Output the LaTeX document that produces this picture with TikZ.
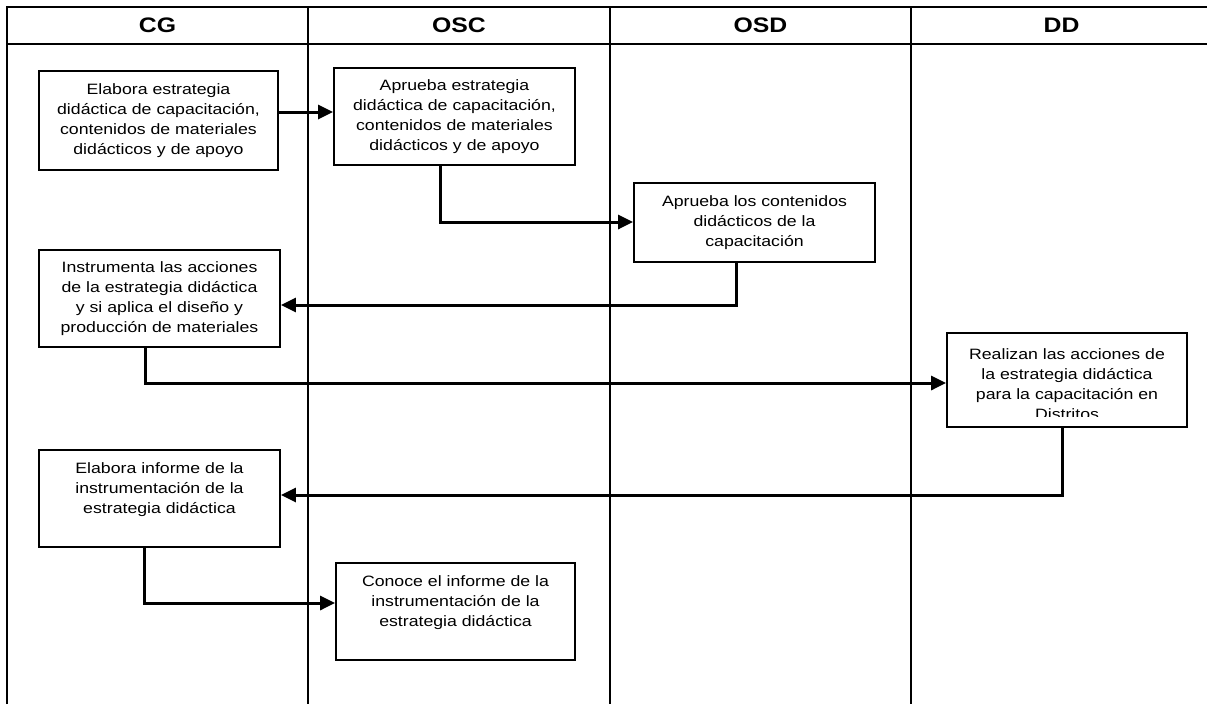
\documentclass[tikz,border=0pt]{standalone}
\usepackage{fontspec}
\setmainfont[FakeStretch=1.18]{Liberation Sans}
\usetikzlibrary{arrows.meta}
\begin{document}
\begin{tikzpicture}[x=1pt,y=-1pt,
  lane/.style={line width=1.8pt},
  box/.style={draw, line width=1.8pt, fill=white, align=center, inner sep=0pt,
    minimum width=240pt, minimum height=97pt, font=\fontsize{15}{20}\selectfont},
  txt/.style={align=center, inner sep=0pt, font=\fontsize{15}{20}\selectfont},
  conn/.style={line width=3pt, -{Triangle[length=15pt,width=14pt]}},
  head/.style={font=\fontsize{21}{24}\selectfont\bfseries}]
\useasboundingbox (0,0) rectangle (1207,704);
% lanes
\draw[lane] (7,704) -- (7,7) -- (1207,7);
\draw[lane] (7,44) -- (1207,44);
\foreach \x in {308,610,911} \draw[lane] (\x,7) -- (\x,704);
% headers
\node[head] (hcg) at (157.5,25) {CG};
\node[head] (hosc) at (459,25) {OSC};
\node[head] (hosd) at (760.5,25) {OSD};
\node[head] (hdd) at (1061.5,25) {DD};
% boxes
\node[box, minimum width=239pt, minimum height=99pt] (cg1) at (158.5,120.5)
  {Elabora estrategia\\didáctica de capacitación,\\contenidos de materiales\\didácticos y de apoyo};
\node[box, minimum width=241pt] (osc1) at (454.5,116.5)
  {Aprueba estrategia\\didáctica de capacitación,\\contenidos de materiales\\didácticos y de apoyo};
\node[box, minimum width=241pt, minimum height=79pt] (osd) at (754.5,222.5)
  {Aprueba los contenidos\\didácticos de la\\capacitación};
\node[box, minimum width=241pt] (cg2) at (159.5,298.5)
  {Instrumenta las acciones\\de la estrategia didáctica\\y si aplica el diseño y\\producción de materiales};
\node[box, minimum width=240pt, minimum height=94pt] (dd) at (1067,380) {};
\begin{scope}
  \clip (948,334) rectangle (1186,416.5);
  \node[txt] (ddtext) at (1067,384)
    {Realizan las acciones de\\la estrategia didáctica\\para la capacitación en\\Distritos};
\end{scope}
\node[box, minimum width=241pt] (cg3) at (159.5,498.5)
  {Elabora informe de la\\instrumentación de la\\estrategia didáctica\\\mbox{}};
\node[box, minimum width=239pt] (osc2) at (455.5,611.5)
  {Conoce el informe de la\\instrumentación de la\\estrategia didáctica\\\mbox{}};
% connectors
\draw[conn] (cg1.east |- 0,112) -- (osc1.west |- 0,112);
\draw[conn] (osc1.south -| 440,0) |- (osd.west |- 0,222);
\draw[conn] (osd.south -| 736,0) |- (cg2.east |- 0,305);
\draw[conn] (cg2.south -| 145,0) |- (dd.west |- 0,383);
\draw[conn] (dd.south -| 1062,0) |- (cg3.east |- 0,495);
\draw[conn] (cg3.south -| 144,0) |- (osc2.west |- 0,603);
\end{tikzpicture}
\end{document}
